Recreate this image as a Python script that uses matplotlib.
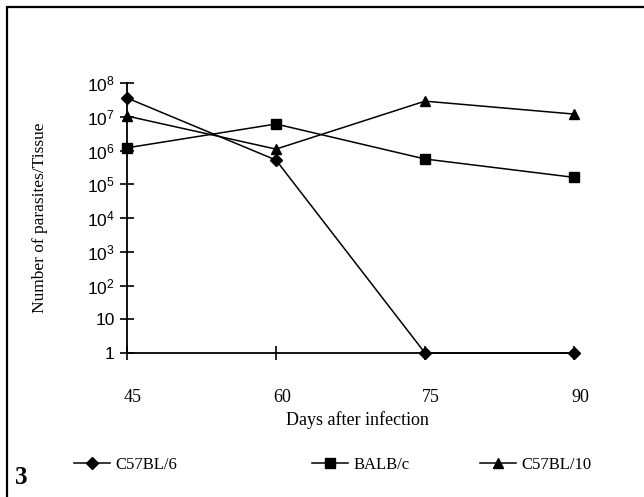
import matplotlib
matplotlib.use("Agg")
import matplotlib.pyplot as plt
from matplotlib.patches import Rectangle
from matplotlib.transforms import ScaledTranslation

plt.rcParams['mathtext.fontset'] = 'custom'
plt.rcParams['mathtext.rm'] = 'Liberation Sans'

days = [45, 60, 75, 90]
c57bl6 = [3.6e7, 5.2e5, 1, 1]
balbc = [1.2e6, 6.1e6, 5.6e5, 1.6e5]
c57bl10 = [1.05e7, 1.1e6, 2.9e7, 1.2e7]
series_names = ["C57BL/6", "BALB/c", "C57BL/10"]
y_ticks = [1, 10, 1e2, 1e3, 1e4, 1e5, 1e6, 1e7, 1e8]
y_tick_labels = ["1", "10", r"$\mathregular{10^2}$", r"$\mathregular{10^3}$",
                 r"$\mathregular{10^4}$", r"$\mathregular{10^5}$",
                 r"$\mathregular{10^6}$", r"$\mathregular{10^7}$",
                 r"$\mathregular{10^8}$"]

W, H = 644, 497
fig = plt.figure(figsize=(W / 100, H / 100), dpi=100)
ax = fig.add_axes([127 / W, 1 - 353 / H, (574 - 127) / W, (353 - 83) / H])

style = dict(color='black', linewidth=1.1)
l1, = ax.plot(days, c57bl6, marker='D', markersize=6, label=series_names[0], **style)
l2, = ax.plot(days, balbc, marker='s', markersize=7.5, label=series_names[1], **style)
l3, = ax.plot(days, c57bl10, marker='^', markersize=7.5, label=series_names[2], **style)
for l in (l1, l2, l3):
    l.set_clip_on(False)

ax.set_yscale('log')
ax.set_ylim(1, 1e8)
ax.set_xlim(45, 90)
ax.set_yticks(y_ticks)
ax.set_yticklabels(y_tick_labels, fontfamily='Liberation Sans', fontsize=12.5)
ax.yaxis.set_minor_locator(matplotlib.ticker.NullLocator())
ax.set_xticks(days)
ax.set_xticklabels([str(d) for d in days], fontfamily='Liberation Serif', fontsize=13)
ax.tick_params(axis='y', direction='inout', length=10, width=1.2, pad=4)
ax.tick_params(axis='x', direction='inout', length=10, width=1.2, pad=21)
shift = ScaledTranslation(6 / 100, 0, fig.dpi_scale_trans)
for lab in ax.get_xticklabels():
    lab.set_transform(lab.get_transform() + shift)
for s in ('top', 'right'):
    ax.spines[s].set_visible(False)
for s in ('left', 'bottom'):
    ax.spines[s].set_linewidth(1.3)

fig.text(40 / W, 1 - 218 / H, "Number of parasites/Tissue", rotation=90,
         ha='center', va='center', fontfamily='Liberation Serif', fontsize=12.5)
fig.text(357 / W, 1 - 420 / H, "Days after infection",
         ha='center', va='center', fontfamily='Liberation Serif', fontsize=13)

legend_x = [74, 312, 480]
for h, x in zip((l1, l2, l3), legend_x):
    fig.legend(handles=[h], loc='center left', bbox_to_anchor=(x / W, 1 - 465 / H),
               frameon=False, handlelength=2.15, handletextpad=0.35, borderpad=0,
               borderaxespad=0, prop={'family': 'Liberation Serif', 'size': 12})

fig.text(15 / W, 1 - 477 / H, "3", ha='left', va='center',
         fontfamily='Liberation Serif', fontweight='bold', fontsize=18)

fig.patches.append(Rectangle((7 / W, -0.1), 1.2, (1 - 7 / H) + 0.1,
                             transform=fig.transFigure, fill=False,
                             edgecolor='black', linewidth=1.6))

fig.savefig("out.png", dpi=100)
